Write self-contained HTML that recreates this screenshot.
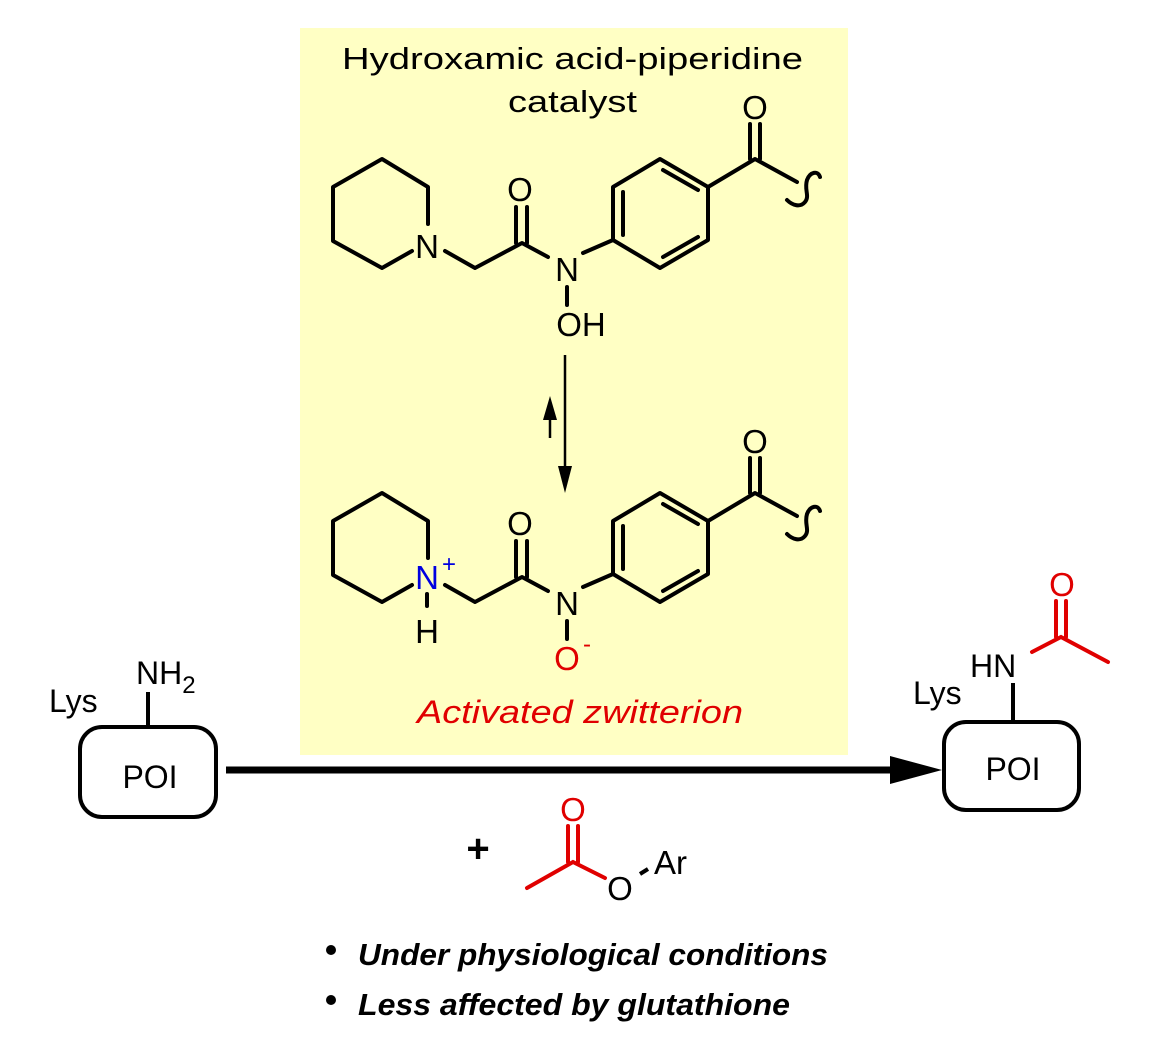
<!DOCTYPE html>
<html><head><meta charset="utf-8"><style>
html,body{margin:0;padding:0;background:#fff;}
svg{display:block;}
text{font-family:"Liberation Sans",sans-serif;}
</style></head><body>
<svg width="1156" height="1052" viewBox="0 0 1156 1052" xmlns="http://www.w3.org/2000/svg">
<rect x="300" y="28" width="548" height="727" fill="#ffffc4"/>
<text x="342" y="69" font-size="31" textLength="461" lengthAdjust="spacingAndGlyphs">Hydroxamic acid-piperidine</text>
<text x="508" y="112" font-size="31" textLength="129" lengthAdjust="spacingAndGlyphs">catalyst</text>

<g stroke="#000" stroke-width="4" fill="none" stroke-linecap="round" stroke-linejoin="round">
  <polyline points="428,224 428,187 382,159 333,187 333,241 382,268 412,251"/>
  <polyline points="445,251 475,268 522,243 548,257"/>
  <line x1="516" y1="243" x2="516" y2="207"/><line x1="527" y1="243" x2="527" y2="207"/>
  <line x1="567" y1="287" x2="567" y2="305"/>
  <polyline points="583,253 613,240 613,187 660,159 708,187 708,240 660,268 613,240"/>
  <line x1="623" y1="192" x2="623" y2="235"/>
  <line x1="663" y1="170" x2="698" y2="190"/>
  <line x1="663" y1="257" x2="698" y2="237"/>
  <polyline points="708,187 755,159 797,182"/>
  <line x1="750" y1="159" x2="750" y2="124"/><line x1="760" y1="159" x2="760" y2="124"/>
  <path d="M820,177 C818,170 810,172 807,180 C804,190 810,196 805,202 C800,208 792,205 787,200"/>
</g>
<text x="427" y="258" font-size="33" text-anchor="middle">N</text>
<text x="520" y="201" font-size="33" text-anchor="middle">O</text>
<text x="567" y="281" font-size="33" text-anchor="middle">N</text>
<text x="581" y="336" font-size="33" text-anchor="middle">OH</text>
<text x="755" y="119" font-size="33" text-anchor="middle">O</text>

<g transform="translate(0,334)">
<g stroke="#000" stroke-width="4" fill="none" stroke-linecap="round" stroke-linejoin="round">
  <polyline points="428,224 428,187 382,159 333,187 333,241 382,268 412,251"/>
  <polyline points="445,251 475,268 522,243 548,257"/>
  <line x1="516" y1="243" x2="516" y2="207"/><line x1="527" y1="243" x2="527" y2="207"/>
  <line x1="567" y1="287" x2="567" y2="305"/>
  <line x1="427" y1="260" x2="427" y2="272"/>
  <polyline points="583,253 613,240 613,187 660,159 708,187 708,240 660,268 613,240"/>
  <line x1="623" y1="192" x2="623" y2="235"/>
  <line x1="663" y1="170" x2="698" y2="190"/>
  <line x1="663" y1="257" x2="698" y2="237"/>
  <polyline points="708,187 755,159 797,182"/>
  <line x1="750" y1="159" x2="750" y2="124"/><line x1="760" y1="159" x2="760" y2="124"/>
  <path d="M820,177 C818,170 810,172 807,180 C804,190 810,196 805,202 C800,208 792,205 787,200"/>
</g>
<text x="427" y="255" font-size="33" text-anchor="middle" fill="#0000e0">N</text>
<text x="449" y="238" font-size="24" text-anchor="middle" fill="#0000e0">+</text>
<text x="427" y="309" font-size="33" text-anchor="middle">H</text>
<text x="520" y="201" font-size="33" text-anchor="middle">O</text>
<text x="567" y="281" font-size="33" text-anchor="middle">N</text>
<text x="567" y="336" font-size="33" text-anchor="middle" fill="#e00000">O</text>
<text x="587" y="318" font-size="24" text-anchor="middle" fill="#e00000">-</text>
<text x="755" y="119" font-size="33" text-anchor="middle">O</text>
</g>

<line x1="565" y1="355" x2="565" y2="470" stroke="#000" stroke-width="2.5"/>
<polygon points="558,466 572,466 565,493" fill="#000"/>
<line x1="550" y1="438" x2="550" y2="415" stroke="#000" stroke-width="2.5"/>
<polygon points="543,420 557,420 550,396" fill="#000"/>

<text x="417" y="723" font-size="32" font-style="italic" fill="#e00000" textLength="326" lengthAdjust="spacingAndGlyphs">Activated zwitterion</text>

<rect x="80" y="727" width="136" height="90" rx="22" fill="none" stroke="#000" stroke-width="4"/>
<line x1="148" y1="692" x2="148" y2="727" stroke="#000" stroke-width="4"/>
<text x="150" y="788" font-size="32" text-anchor="middle">POI</text>
<text x="136" y="684" font-size="32">NH<tspan font-size="24" dy="9">2</tspan></text>
<text x="49" y="712" font-size="32">Lys</text>

<line x1="226" y1="770" x2="900" y2="770" stroke="#000" stroke-width="7"/>
<polygon points="890,756 942,770 890,784" fill="#000"/>

<rect x="944" y="722" width="135" height="88" rx="22" fill="none" stroke="#000" stroke-width="4"/>
<line x1="1013" y1="683" x2="1013" y2="722" stroke="#000" stroke-width="4"/>
<text x="1013" y="780" font-size="32" text-anchor="middle">POI</text>
<text x="970" y="677" font-size="32">HN</text>
<text x="913" y="704" font-size="32">Lys</text>
<g stroke="#e00000" stroke-width="4" fill="none" stroke-linecap="round">
  <polyline points="1032,652 1061,637 1108,662"/>
  <line x1="1056" y1="637" x2="1056" y2="601"/><line x1="1066" y1="637" x2="1066" y2="601"/>
</g>
<text x="1062" y="596" font-size="33" text-anchor="middle" fill="#e00000">O</text>

<text x="478" y="862" font-size="40" font-weight="bold" text-anchor="middle">+</text>
<g stroke="#e00000" stroke-width="4" fill="none" stroke-linecap="round">
  <polyline points="527,888 573,862 605,878"/>
  <line x1="568" y1="862" x2="568" y2="826"/><line x1="578" y1="862" x2="578" y2="826"/>
</g>
<line x1="640" y1="874" x2="648" y2="869" stroke="#000" stroke-width="4"/>
<text x="573" y="821" font-size="33" text-anchor="middle" fill="#e00000">O</text>
<text x="620" y="900" font-size="33" text-anchor="middle">O</text>
<text x="654" y="874" font-size="33">Ar</text>

<circle cx="331" cy="950" r="5" fill="#000"/>
<circle cx="331" cy="1000" r="5" fill="#000"/>
<text x="358" y="965" font-size="31" font-weight="bold" font-style="italic" textLength="470" lengthAdjust="spacingAndGlyphs">Under physiological conditions</text>
<text x="358" y="1015" font-size="31" font-weight="bold" font-style="italic" textLength="432" lengthAdjust="spacingAndGlyphs">Less affected by glutathione</text>
</svg>
</body></html>
